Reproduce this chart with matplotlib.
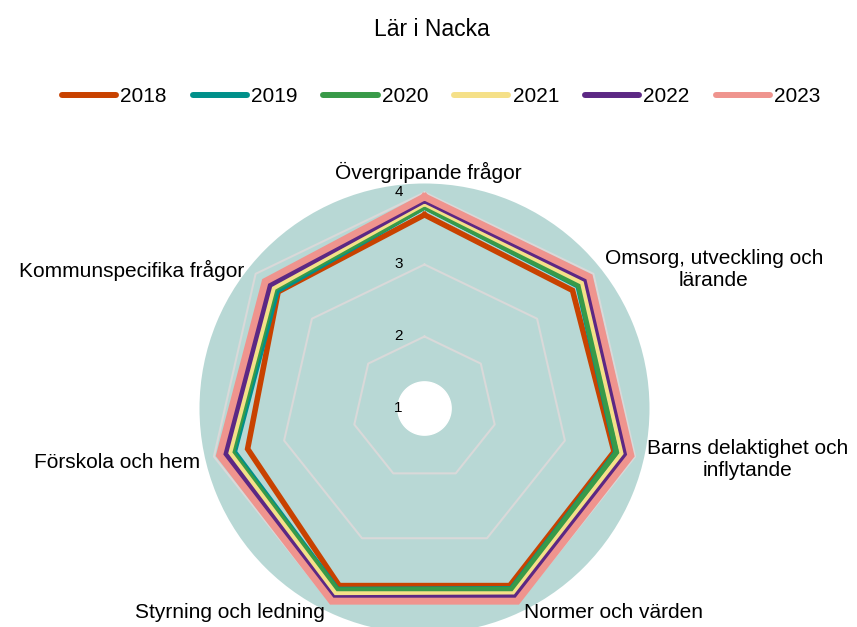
import numpy as np
import matplotlib
matplotlib.use("Agg")
import matplotlib.pyplot as plt

plt.rcParams['font.family'] = ['Liberation Sans', 'DejaVu Sans']

# Kategorier (medelvärden per område)
kategorier = ['Övergripande frågor', 'Omsorg, utveckling och\nlärande',
              'Barns delaktighet och\ninflytande', 'Normer och värden',
              'Styrning och ledning', 'Förskola och hem', 'Kommunspecifika frågor']
ar = ['2018', '2019', '2020', '2021', '2022', '2023']
v2018 = [3.69, 3.63, 3.70, 3.73, 3.73, 3.52, 3.60]
v2019 = [3.80, 3.73, 3.73, 3.78, 3.79, 3.71, 3.62]
v2020 = [3.80, 3.74, 3.74, 3.79, 3.80, 3.74, 3.66]
v2021 = [3.85, 3.81, 3.82, 3.86, 3.86, 3.78, 3.69]
v2022 = [3.89, 3.87, 3.88, 3.91, 3.92, 3.84, 3.75]
v2023 = [3.94, 3.93, 3.94, 3.97, 3.97, 3.92, 3.83]
serier = [v2018, v2019, v2020, v2021, v2022, v2023]
farger = ['#c84200', '#00908a', '#389a48', '#f5e088', '#5c2884', '#ef948e']
rticks = [1, 2, 3, 4]

W, H = 857, 627
fig = plt.figure(figsize=(W / 100, H / 100), dpi=100)

# polär axel: centrum (424.5, 408.5) px, radie 225 px
cx, cy, R = 424.5, 408.5, 225
ax = fig.add_axes([(cx - R) / W, (H - cy - R) / H, 2 * R / W, 2 * R / H],
                  projection='polar')
ax.set_theta_zero_location('N')
ax.set_theta_direction(-1)
ax.set_ylim(1, 4.125)
ax.set_facecolor('#b8d8d5')
ax.spines['polar'].set_visible(False)
ax.grid(False)
ax.set_xticks([])
ax.set_yticks([])

n = len(kategorier)
vinklar = np.linspace(0, 2 * np.pi, n, endpoint=False)
slutna = np.append(vinklar, vinklar[0])

# rutnät som sjuhörningar
for r in rticks[1:]:
    ax.plot(slutna, [r] * (n + 1), color='#d9d9d9', lw=1.5, zorder=1)

# vitt hål i mitten
t = np.linspace(0, 2 * np.pi, 200)
ax.fill(t, np.full_like(t, 1.37), color='white', zorder=2)

for namn, vals, f in zip(ar, serier, farger):
    lw = 5 if namn == '2023' else 4
    ax.plot(slutna, vals + vals[:1], color=f, lw=lw, label=namn,
            solid_joinstyle='miter', zorder=3)

for r in rticks:
    ax.annotate(str(r), xy=(0, r), xytext=(-26, 0), textcoords='offset pixels',
                ha='center', va='center', fontsize=11, zorder=5)

# etiketter runt diagrammet (pixelpositioner)
etikett_pos = [(428, 172), (714, 270), (748, 460), (613, 612),
               (230, 612), (117, 462), (132, 270)]
for txt, (x, y) in zip(kategorier, etikett_pos):
    fig.text(x / W, 1 - y / H, txt, ha='center', va='center',
             multialignment='center', fontsize=15)

fig.text(432 / W, 1 - 30 / H, 'Lär i Nacka', ha='center', va='center', fontsize=16.5)

handles, labels = ax.get_legend_handles_labels()
leg = fig.legend(handles, labels, loc='center', ncol=6, frameon=False,
                 bbox_to_anchor=(441 / W, 1 - 97 / H), fontsize=15,
                 handlelength=2.6, handletextpad=0.2, columnspacing=1.25)
for h in leg.get_lines():
    h.set_linewidth(4.3)
    h.set_solid_capstyle('round')

fig.savefig('out.png', dpi=100)
